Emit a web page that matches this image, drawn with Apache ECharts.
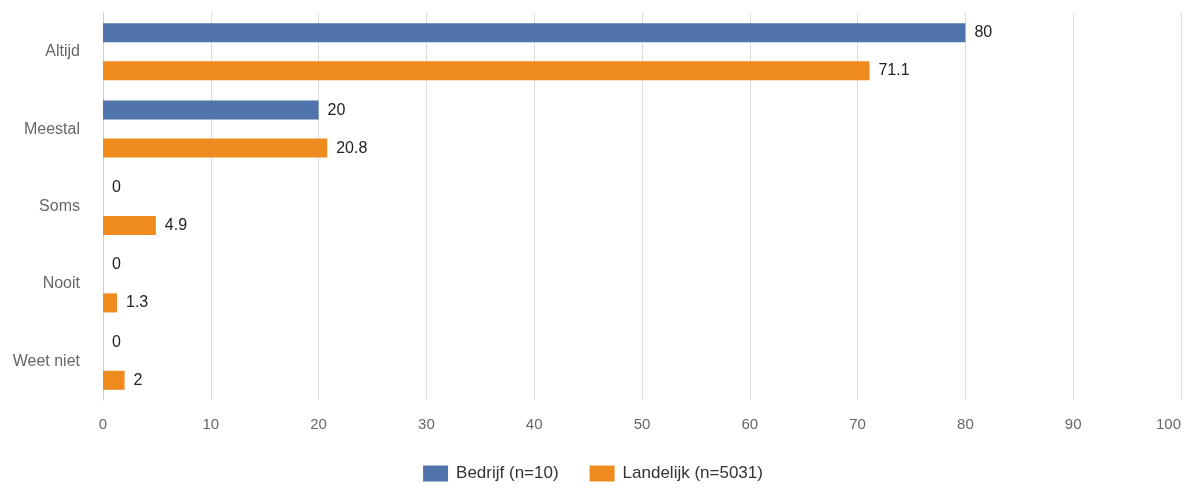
<!DOCTYPE html>
<html><head><meta charset="utf-8">
<script src="https://cdn.jsdelivr.net/npm/echarts@6/dist/echarts.min.js"></script>
<style>html,body{margin:0;padding:0;background:#fff}#c{width:1186px;height:489px}</style>
</head><body><div id="c"></div>
<script>
const categories = ['Altijd','Meestal','Soms','Nooit','Weet niet'];
const bedrijf = [80, 20, 0, 0, 0];
const landelijk = [71.1, 20.8, 4.9, 1.3, 2];
const xTicks = [0,10,20,30,40,50,60,70,80,90,100];
const seriesNames = ['Bedrijf (n=10)','Landelijk (n=5031)'];

const chart = echarts.init(document.getElementById('c'));
const font = 'Liberation Sans, Arial, sans-serif';
const lbl = {show:true, position:'right', distance:9, color:'#222', fontSize:16, fontFamily:font};
chart.setOption({
  animation:false,
  grid:{left:103, right:5, top:13, bottom:89, containLabel:false},
  legend:{bottom:2, left:'center', itemWidth:25, itemHeight:16, itemGap:31, icon:'rect',
    textStyle:{color:'#333', fontSize:17, lineHeight:16, fontFamily:font, padding:[0,0,0,3]}, data:seriesNames},
  xAxis:{type:'value', min:xTicks[0], max:xTicks[xTicks.length-1], interval:10,
    axisLine:{show:false}, axisTick:{show:false},
    splitLine:{lineStyle:{color:'#dcdcdc', width:1}},
    axisLabel:{color:'#666', fontSize:15, fontFamily:font, margin:17, alignMaxLabel:'right'}},
  yAxis:{type:'category', data:categories, inverse:true,
    axisLine:{lineStyle:{color:'#c0d0e0', width:1}},
    axisTick:{length:15, lineStyle:{color:'#c0d0e0'}},
    axisLabel:{color:'#666', fontSize:16, fontFamily:font, margin:23}},
  series:[
    {name:seriesNames[0], type:'bar', data:bedrijf, barWidth:19, barGap:'100%',
      itemStyle:{color:'#4f73ab'}, label:lbl},
    {name:seriesNames[1], type:'bar', data:landelijk, barWidth:19, barGap:'100%',
      itemStyle:{color:'#ef8a1f'}, label:lbl}
  ]
});
</script></body></html>
